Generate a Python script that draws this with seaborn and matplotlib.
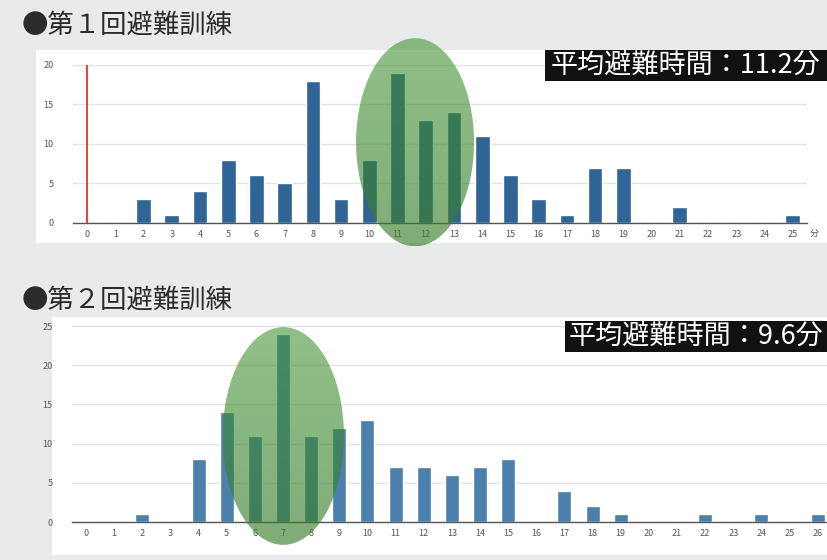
import numpy as np
import pandas as pd
import matplotlib
matplotlib.use("Agg")
import matplotlib.pyplot as plt
from matplotlib.patches import Rectangle, Ellipse
import seaborn as sns

# ---------------- data ----------------
minutes1 = list(range(0, 26))
counts1 = [0, 0, 3, 1, 4, 8, 6, 5, 18, 3, 8, 19, 13, 14, 11, 6, 3, 1, 7, 7, 0, 2, 0, 0, 0, 1]
minutes2 = list(range(0, 27))
counts2 = [0, 0, 1, 0, 8, 14, 11, 24, 11, 12, 13, 7, 7, 6, 7, 8, 0, 4, 2, 1, 0, 0, 1, 0, 1, 0, 1]
title1 = "●第１回避難訓練"
title2 = "●第２回避難訓練"
mean1 = "平均避難時間：11.2分"
mean2 = "平均避難時間：9.6分"
marker1_x = 0
marker1_top = 20
yticks1 = [0, 5, 10, 15, 20]
yticks2 = [0, 5, 10, 15, 20, 25]
unit_label = "分"

sns.set_theme(style="white")
plt.rcParams['font.family'] = ['Noto Sans CJK JP', 'DejaVu Sans']

W, H = 827, 560
fig = plt.figure(figsize=(W / 100, H / 100), dpi=100)
fig.patch.set_facecolor("#e8eaec")


def fx(px):
    return px / W


def fy(py):
    return 1 - py / H


def fig_rect(x0, y0, x1, y1, color, z):
    r = Rectangle((fx(x0), fy(y1)), fx(x1 - x0), (y1 - y0) / H,
                  transform=fig.transFigure, facecolor=color, edgecolor="none", zorder=z)
    fig.add_artist(r)


# white panels (behind axes)
fig_rect(36, 50, 827, 243, "white", -10)
fig_rect(52, 317, 827, 555, "white", -10)


def style_axes(ax, yticks, ylim):
    ax.set_facecolor("none")
    ax.set_ylim(*ylim)
    ax.set_yticks(yticks)
    ax.grid(axis="y", color="#e2e2e2", linewidth=1.0)
    ax.set_axisbelow(True)
    for s in ["top", "right", "left"]:
        ax.spines[s].set_visible(False)
    ax.spines["bottom"].set_color("#555555")
    ax.spines["bottom"].set_linewidth(1.0)
    ax.tick_params(axis="both", length=0, labelsize=6.5, labelcolor="#555555")
    ax.tick_params(axis="y", pad=14)
    ax.tick_params(axis="x", pad=5)
    ax.set_xlabel("")
    ax.set_ylabel("")


def green_ellipse(ax, cx, cy, w, h):
    ell = Ellipse((cx, cy), w, h, facecolor="none", edgecolor="none",
                  clip_on=False, zorder=4)
    ax.add_patch(ell)
    n = 200
    t = np.linspace(0, 1, n)[:, None]  # 0 top -> 1 bottom
    img = np.zeros((n, 2, 4))
    top = np.array([0.25, 0.57, 0.19])
    bot = np.array([0.22, 0.49, 0.17])
    img[..., :3] = (top * (1 - t) + bot * t)[:, None, :]
    img[..., 3] = (0.58 + 0.06 * t)
    im = ax.imshow(img, extent=(cx - w / 2, cx + w / 2, cy - h / 2, cy + h / 2),
                   aspect="auto", origin="upper", zorder=4, interpolation="bilinear")
    im.set_clip_box(fig.bbox)
    im.set_clip_path(ell)


# ---------------- panel 1 ----------------
ax1 = fig.add_axes([fx(73), fy(222.7), fx(806.8 - 73), (222.7 - 65) / H])
df1 = pd.DataFrame({"minute": minutes1, "count": counts1})
sns.barplot(data=df1, x="minute", y="count", order=minutes1, color="#2f6496",
            saturation=1, width=0.52, ax=ax1)
style_axes(ax1, yticks1, (0, 20))
ax1.vlines(marker1_x, 0, marker1_top, color="#e8312a", linewidth=1.3, zorder=3)
green_ellipse(ax1, 11.62, 10.2, 4.18, 26.4)
ax1.set_xlim(-0.5, len(minutes1) - 0.5)
ax1.set_ylim(0, 20)
ax1.text(25.78, -1.3, unit_label, fontsize=6.5, color="#555555", ha="center", va="center")

fig.text(fx(22), fy(25), title1, fontsize=19, color="#2b2b2b", va="center", ha="left")
fig_rect(545, 50, 827, 81, "#111111", 5)
fig.text(fx(686), fy(65.5), mean1, fontsize=19.5, color="white", ha="center", va="center", zorder=6)

# ---------------- panel 2 ----------------
ax2 = fig.add_axes([fx(72), fy(522), fx(827 - 72), (522 - 326) / H])
df2 = pd.DataFrame({"minute": minutes2, "count": counts2})
sns.barplot(data=df2, x="minute", y="count", order=minutes2, color="#4b80ad",
            saturation=1, width=0.5, ax=ax2)
style_axes(ax2, yticks2, (0, 25))
green_ellipse(ax2, 7.01, 10.97, 4.31, 27.77)
ax2.set_xlim(-0.5, (827 - 86) / 28.14)
ax2.set_ylim(0, 25)

fig.text(fx(22), fy(300), title2, fontsize=19, color="#2b2b2b", va="center", ha="left")
fig_rect(565, 321, 827, 352, "#111111", 5)
fig.text(fx(696), fy(336.5), mean2, fontsize=19.5, color="white", ha="center", va="center", zorder=6)

fig.savefig("out.png", dpi=100, facecolor=fig.get_facecolor())
